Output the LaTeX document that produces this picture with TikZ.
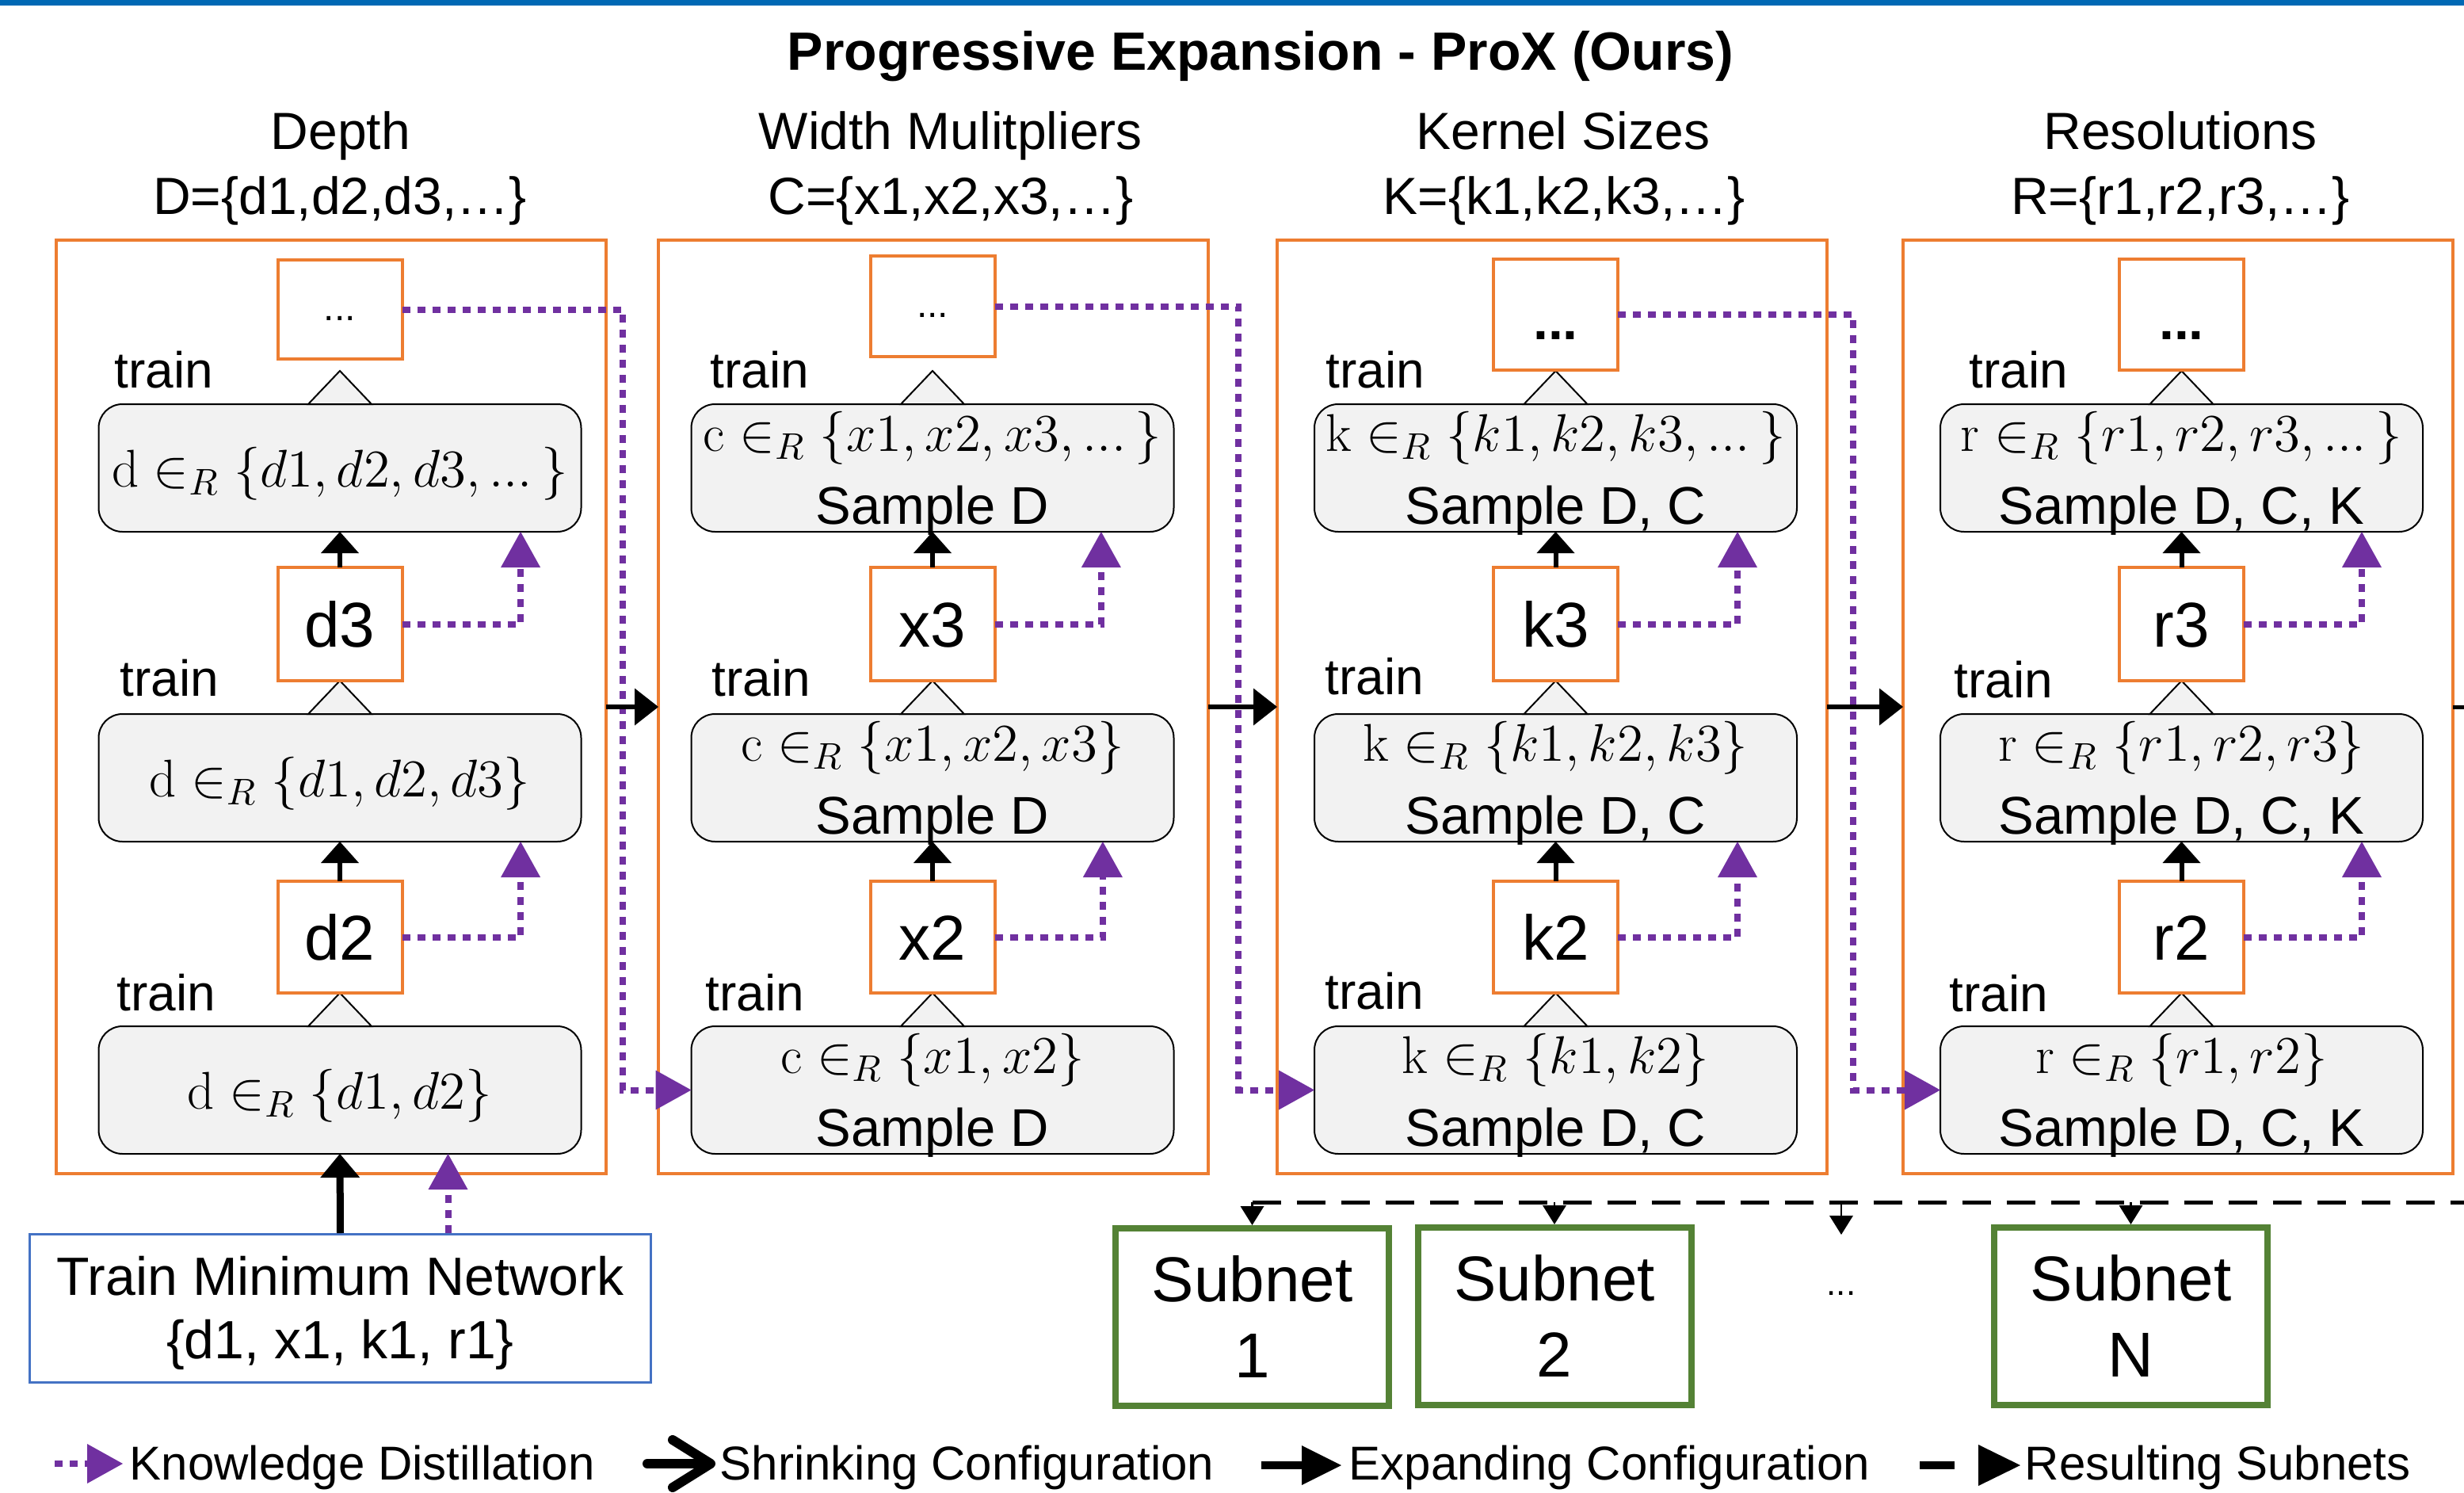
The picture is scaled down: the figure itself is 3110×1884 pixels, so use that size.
\RequirePackage{fix-cm}
\documentclass[tikz,border=0pt]{standalone}
\usepackage{fontspec}
\newfontfamily\arial{Liberation Sans}
\usetikzlibrary{arrows.meta}
\definecolor{orng}{HTML}{ED7D31}
\definecolor{purp}{HTML}{7030A0}
\definecolor{grn}{HTML}{548235}
\definecolor{blu}{HTML}{4472C4}
\definecolor{topbar}{HTML}{0068B4}
\definecolor{gfill}{HTML}{F2F2F2}
\newcommand{\lowtxt}[2]{\raisebox{-#1}[0pt][0pt]{#2}}
\newcommand{\tdots}{\mathord{.}\mathord{.}\mathord{.}}
\tikzset{
 colbox/.style={draw=orng, line width=1pt, minimum width=173.5pt, minimum height=294.5pt, inner sep=0pt, outer sep=0pt, anchor=north west},
 gbox/.style={draw=black, line width=0.5pt, fill=gfill, rounded corners=7.5pt, minimum width=152.25pt, minimum height=40.25pt, inner sep=0pt, outer sep=0pt, anchor=north},
 sbox/.style={draw=orng, line width=1pt, fill=white, minimum width=39.25pt, inner sep=0pt, outer sep=0pt, anchor=north, font=\arial\fontsize{20}{24}\selectfont},
 mlbl/.style={anchor=base, inner sep=0pt, font=\fontsize{16.75}{20}\selectfont},
 slbl/.style={anchor=base, inner sep=0pt, font=\arial\fontsize{16.75}{20}\selectfont},
 trn/.style={anchor=base west, inner sep=0pt, font=\arial\fontsize{16}{19}\selectfont},
 hdr/.style={anchor=base, inner sep=0pt, font=\arial\fontsize{16.5}{20}\selectfont},
 leg/.style={anchor=base west, inner sep=0pt, font=\arial\fontsize{15}{18}\selectfont},
 tri/.style={draw=black, line width=0.5pt, fill=gfill},
 kd/.style={draw=purp, line width=2pt, dash pattern=on 2.5pt off 2.25pt, -{Triangle[length=11.25pt,width=12.5pt,line width=0pt]}},
 upar/.style={draw=black, line width=1.5pt, -{Triangle[length=6.75pt,width=12pt,line width=0pt]}},
 colar/.style={draw=black, line width=1.5pt, -{Triangle[length=7.5pt,width=11.75pt,line width=0pt]}},
 subnet/.style={draw=grn, line width=2pt, fill=white, minimum width=86.25pt, minimum height=56pt, inner sep=0pt, align=center, font=\arial\fontsize{20}{24}\selectfont},
 subar/.style={draw=black, line width=0.6pt, -{Triangle[length=6pt,width=7.5pt,line width=0pt]}},
 resdash/.style={draw=black, line width=1.25pt, dash pattern=on 9pt off 5pt},
}
\begin{document}
\begin{tikzpicture}[x=0.25pt,y=-0.25pt]
\useasboundingbox (0,0) rectangle (3110,1884);
\fill[white] (0,0) rectangle (3110,1884);
\fill[topbar] (0,0) rectangle (3110,7);
\node[anchor=base, inner sep=0pt, font=\arial\bfseries\fontsize{17}{20}\selectfont] (title) at (1591,88) {Progressive Expansion - ProX (Ours)};
% headers
\node[hdr] (h1a) at (430,188) {Depth};
\node[hdr] (h1b) at (429,270) {D=\{d1,d2,d3,…\}};
\node[hdr] (h2a) at (1200,188) {Width Mulitpliers};
\node[hdr] (h2b) at (1200,270) {C=\{x1,x2,x3,…\}};
\node[hdr] (h3a) at (1973,188) {Kernel Sizes};
\node[hdr] (h3b) at (1974,270) {K=\{k1,k2,k3,…\}};
\node[hdr] (h4a) at (2752,188) {Resolutions};
\node[hdr] (h4b) at (2752,270) {R=\{r1,r2,r3,…\}};
% columns
\node[colbox] (c1) at (71,303) {};
\node[colbox] (c2) at (831,303) {};
\node[colbox] (c3) at (1612,303) {};
\node[colbox] (c4) at (2402,303) {};
% gray boxes
\node[gbox] (g1a) at (429,510) {};
\node[gbox] (g1b) at (429,901) {};
\node[gbox] (g1c) at (429,1295) {};
\node[gbox] (g2a) at (1177,510) {};
\node[gbox] (g2b) at (1177,901) {};
\node[gbox] (g2c) at (1177,1295) {};
\node[gbox] (g3a) at (1963.5,510) {};
\node[gbox] (g3b) at (1963.5,901) {};
\node[gbox] (g3c) at (1963.5,1295) {};
\node[gbox] (g4a) at (2753.5,510) {};
\node[gbox] (g4b) at (2753.5,901) {};
\node[gbox] (g4c) at (2753.5,1295) {};
\foreach \g in {g1a,g1b,g1c,g2a,g2b,g2c,g3a,g3b,g3c,g4a,g4b,g4c}{
  \draw[tri] ([yshift=10.5pt]\g.north) -- ([xshift=-10pt]\g.north) -- ([xshift=10pt]\g.north) -- cycle;
}
% gray box texts
\node[mlbl] (m1a) at ([yshift=-26pt]g1a.north) {$\mathrm{d} \in_R \{d1, d2, d3, \tdots\,\}$};
\node[mlbl] (m1b) at ([yshift=-26pt]g1b.north) {$\mathrm{d} \in_R \{d1, d2, d3\}$};
\node[mlbl] (m1c) at ([yshift=-26pt]g1c.north) {$\mathrm{d} \in_R \{d1, d2\}$};
\node[mlbl] (m2a) at ([yshift=-14.75pt]g2a.north) {$\mathrm{c} \in_R \{x1, x2, x3, \tdots\,\}$};
\node[slbl] (t2a) at ([yshift=-37.75pt]g2a.north) {Sample D};
\node[mlbl] (m2b) at ([yshift=-14.75pt]g2b.north) {$\mathrm{c} \in_R \{x1, x2, x3\}$};
\node[slbl] (t2b) at ([yshift=-37.75pt]g2b.north) {Sample D};
\node[mlbl] (m2c) at ([yshift=-14.75pt]g2c.north) {$\mathrm{c} \in_R \{x1, x2\}$};
\node[slbl] (t2c) at ([yshift=-37.75pt]g2c.north) {Sample D};
\node[mlbl] (m3a) at ([yshift=-14.75pt]g3a.north) {$\mathrm{k} \in_R \{k1, k2, k3, \tdots\,\}$};
\node[slbl] (t3a) at ([yshift=-37.75pt]g3a.north) {Sample D, C};
\node[mlbl] (m3b) at ([yshift=-14.75pt]g3b.north) {$\mathrm{k} \in_R \{k1, k2, k3\}$};
\node[slbl] (t3b) at ([yshift=-37.75pt]g3b.north) {Sample D, C};
\node[mlbl] (m3c) at ([yshift=-14.75pt]g3c.north) {$\mathrm{k} \in_R \{k1, k2\}$};
\node[slbl] (t3c) at ([yshift=-37.75pt]g3c.north) {Sample D, C};
\node[mlbl] (m4a) at ([yshift=-14.75pt]g4a.north) {$\mathrm{r} \in_R \{r1, r2, r3, \tdots\,\}$};
\node[slbl] (t4a) at ([yshift=-37.75pt]g4a.north) {Sample D, C, K};
\node[mlbl] (m4b) at ([yshift=-14.75pt]g4b.north) {$\mathrm{r} \in_R \{r1, r2, r3\}$};
\node[slbl] (t4b) at ([yshift=-37.75pt]g4b.north) {Sample D, C, K};
\node[mlbl] (m4c) at ([yshift=-14.75pt]g4c.north) {$\mathrm{r} \in_R \{r1, r2\}$};
\node[slbl] (t4c) at ([yshift=-37.75pt]g4c.north) {Sample D, C, K};
% small boxes
\node[sbox, minimum height=31.25pt] (s1a) at (429,328) {\lowtxt{3.6pt}{\fontsize{12}{14}\selectfont...}};
\node[sbox, minimum height=35.75pt] (s1b) at (429,716) {\lowtxt{7.25pt}{d3}};
\node[sbox, minimum height=35.25pt] (s1c) at (429,1112) {\lowtxt{7.25pt}{d2}};
\node[sbox, minimum height=31.75pt] (s2a) at (1177,323) {\lowtxt{3.6pt}{\fontsize{12}{14}\selectfont...}};
\node[sbox, minimum height=35.75pt] (s2b) at (1177,716) {\lowtxt{7.25pt}{x3}};
\node[sbox, minimum height=35.25pt] (s2c) at (1177,1112) {\lowtxt{7.25pt}{x2}};
\node[sbox, minimum height=35pt] (s3a) at (1963.5,327) {\lowtxt{7.75pt}{\bfseries\fontsize{17}{20}\selectfont...}};
\node[sbox, minimum height=35.75pt] (s3b) at (1963.5,716) {\lowtxt{7.25pt}{k3}};
\node[sbox, minimum height=35.25pt] (s3c) at (1963.5,1112) {\lowtxt{7.25pt}{k2}};
\node[sbox, minimum height=35pt] (s4a) at (2753.5,327) {\lowtxt{7.75pt}{\bfseries\fontsize{17}{20}\selectfont...}};
\node[sbox, minimum height=35.75pt] (s4b) at (2753.5,716) {\lowtxt{7.25pt}{r3}};
\node[sbox, minimum height=35.25pt] (s4c) at (2753.5,1112) {\lowtxt{7.25pt}{r2}};
% train labels
\node[trn] (tr1a) at (144,489) {train};
\node[trn] (tr1b) at (151,878) {train};
\node[trn] (tr1c) at (147,1275) {train};
\node[trn] (tr2a) at (896,489) {train};
\node[trn] (tr2b) at (898,878) {train};
\node[trn] (tr2c) at (890,1275) {train};
\node[trn] (tr3a) at (1673,489) {train};
\node[trn] (tr3b) at (1672,876) {train};
\node[trn] (tr3c) at (1672,1273) {train};
\node[trn] (tr4a) at (2485,489) {train};
\node[trn] (tr4b) at (2466,880) {train};
\node[trn] (tr4c) at (2460,1276) {train};
% knowledge distillation (short)
\draw[kd] (s1b.east) -| ([xshift=-19.1pt]g1a.south east);
\draw[kd] (s1c.east) -| ([xshift=-19.1pt]g1b.south east);
\draw[kd] (s2b.east) -| ([xshift=-22.9pt]g2a.south east);
\draw[kd] (s2c.east) -| ([xshift=-22.4pt]g2b.south east);
\draw[kd] (s3b.east) -| ([xshift=-18.75pt]g3a.south east);
\draw[kd] (s3c.east) -| ([xshift=-18.75pt]g3b.south east);
\draw[kd] (s4b.east) -| ([xshift=-19.25pt]g4a.south east);
\draw[kd] (s4c.east) -| ([xshift=-19.25pt]g4b.south east);
% knowledge distillation (long)
\coordinate (j1) at ([xshift=5.25pt]c1.east |- g2c.west);
\coordinate (j2) at ([xshift=9.5pt]c2.east |- g3c.west);
\coordinate (j3) at ([xshift=8.25pt]c3.east |- g4c.west);
\draw[kd] (s1a.east) -| (j1) -- (g2c.west);
\draw[kd] (s2a.east) -| (j2) -- (g3c.west);
\draw[kd] (s3a.east) -| (j3) -- (g4c.west);
% expanding arrows inside columns
\draw[upar] (s1b.north) -- (g1a.south);
\draw[upar] (s1c.north) -- (g1b.south);
\draw[upar] (s2b.north) -- (g2a.south);
\draw[upar] (s2c.north) -- (g2b.south);
\draw[upar] (s3b.north) -- (g3a.south);
\draw[upar] (s3c.north) -- (g3b.south);
\draw[upar] (s4b.north) -- (g4a.south);
\draw[upar] (s4c.north) -- (g4b.south);
% between columns
\draw[colar] (c1.east) -- (c2.west);
\draw[colar] (c2.east) -- (c3.west);
\draw[colar] (c3.east) -- (c4.west);
\coordinate (rexit) at (3110,892);
\draw[black, line width=1.25pt] (c4.east) -- (rexit);
% minimum network
\node[draw=blu, line width=0.75pt, minimum width=196pt, minimum height=46.75pt, inner sep=0pt, align=center, font=\arial\fontsize{17}{20}\selectfont] (tmn) at (429.5,1651) {\rule{0pt}{15.2pt}Train Minimum Network\\\{d1, x1, k1, r1\}};
\draw[black, line width=2.25pt, -{Triangle[length=7.5pt,width=12.5pt,line width=0pt]}] (tmn.north) -- (g1c.south);
\coordinate (tkd) at ([xshift=34pt]tmn.north);
\draw[kd] (tkd) -- (tkd |- g1c.south);
% subnets
\node[subnet] (sn1) at (1580.5,1662) {Subnet\\1};
\node[subnet] (sn2) at (1962,1661) {Subnet\\2};
\node[subnet] (snN) at (2689.5,1661) {Subnet\\N};
\node[inner sep=0pt, font=\arial\fontsize{11}{13}\selectfont] (sdots) at (2324,1632) {...};
\coordinate (dR) at (3110,1517);
\coordinate (dL) at (sn1.north |- dR);
\draw[resdash] (dL) -- (dR);
\draw[subar] (dL) -- (sn1.north);
\draw[subar] (sn2.north |- dR) -- (sn2.north);
\coordinate (dA) at (2324,1558);
\draw[subar] (dA |- dR) -- (dA);
\draw[subar] (snN.north |- dR) -- (snN.north);
% legend
\node[leg] (lt1) at (163,1867) {Knowledge Distillation};
\node[leg] (lt2) at (908,1867) {Shrinking Configuration};
\node[leg] (lt3) at (1702,1867) {Expanding Configuration};
\node[leg] (lt4) at (2555,1867) {Resulting Subnets};
\coordinate (la1) at (69,1847); \coordinate (lb1) at (155,1847);
\draw[kd] (la1) -- (lb1);
\coordinate (la2) at (817,1847); \coordinate (lb2) at (903,1847);
\draw[black, line width=3pt, line cap=round, -{Straight Barb[length=12pt,width=15pt,round]}] (la2) -- (lb2);
\coordinate (la3) at (1592,1849); \coordinate (lb3) at (1693,1849);
\draw[black, line width=2.5pt, -{Triangle[length=12.5pt,width=12.5pt,line width=0pt]}] (la3) -- (lb3);
\coordinate (la4) at (2423,1849); \coordinate (lb4) at (2550,1849);
\draw[black, line width=2.5pt, dash pattern=on 11pt off 7.5pt, -{Triangle[length=13.25pt,width=13pt,line width=0pt]}] (la4) -- (lb4);
\end{tikzpicture}
\end{document}
